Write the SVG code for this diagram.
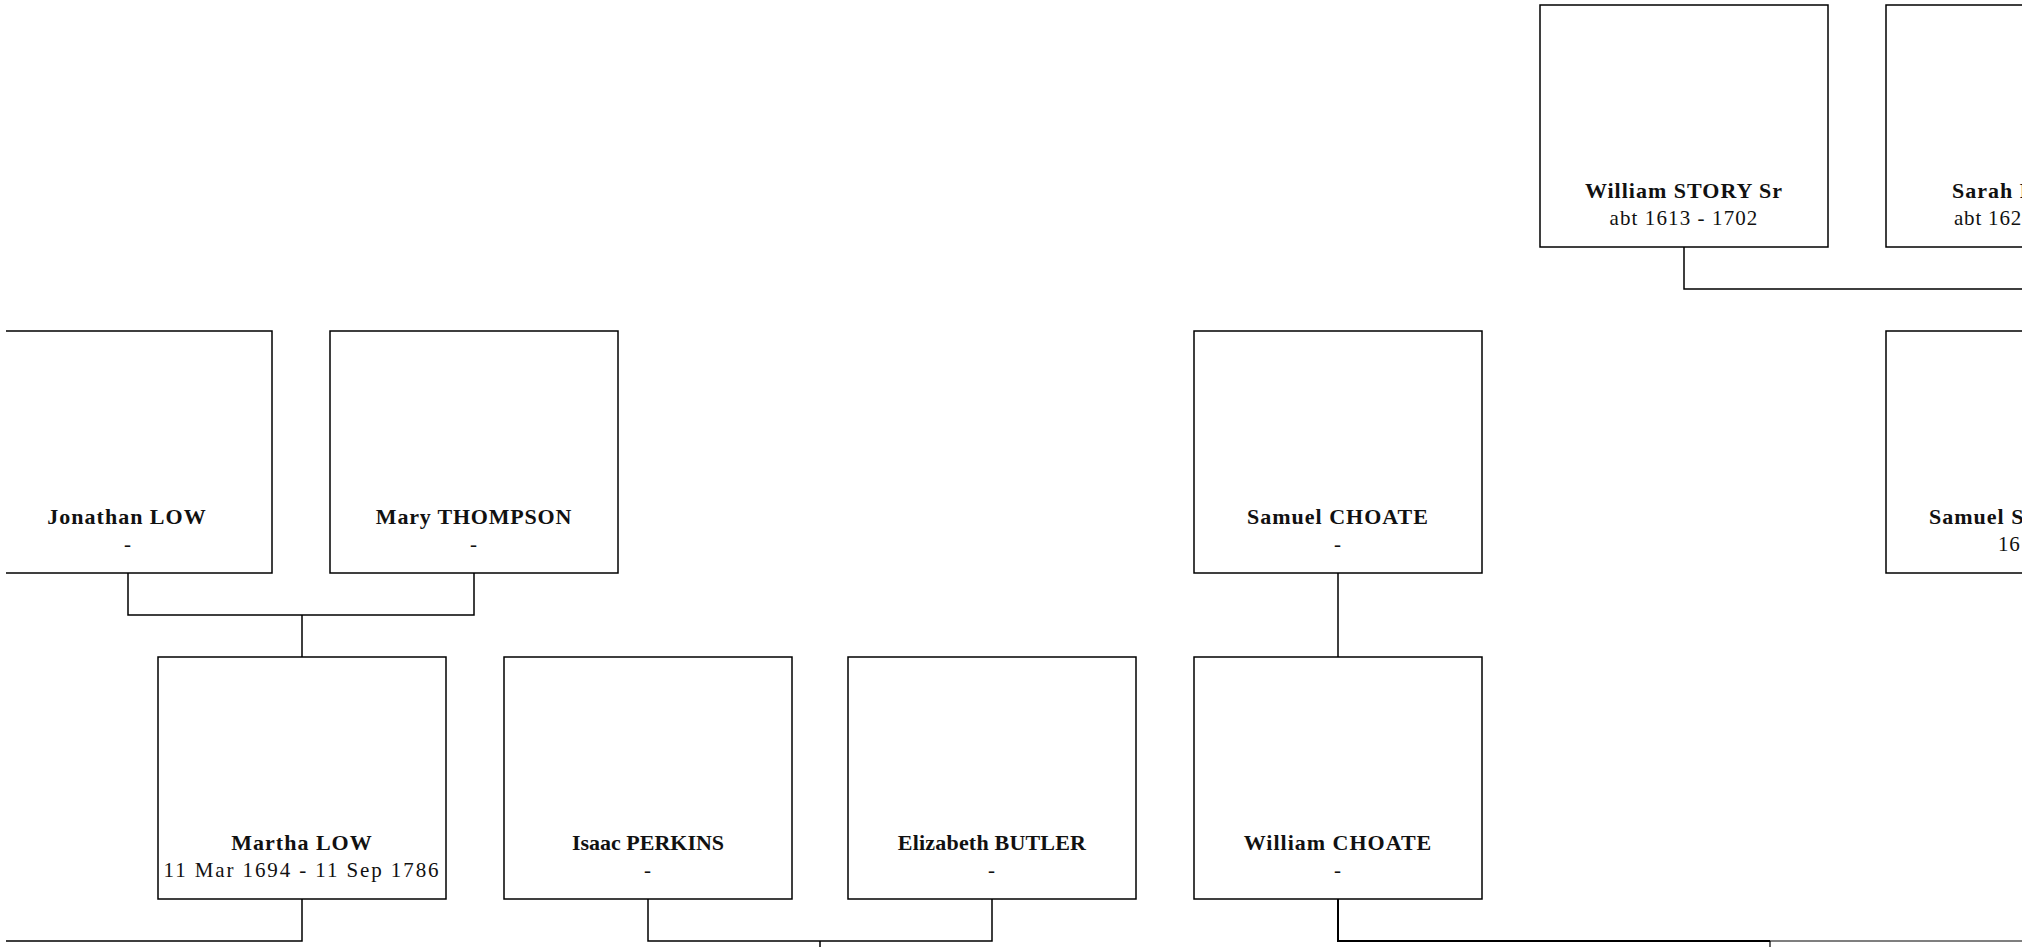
<svg xmlns="http://www.w3.org/2000/svg" width="2038" height="947" viewBox="0 0 2038 947">
<style>
.box{fill:#fff;stroke:#000;stroke-width:1.5}
.ln{fill:none;stroke:#000;stroke-width:1.5}
.nm{font-family:"Liberation Serif","Times New Roman",serif;font-weight:bold;font-size:22px;letter-spacing:1px;text-anchor:middle;fill:#111}
.dt{font-family:"Liberation Serif","Times New Roman",serif;font-size:21px;letter-spacing:0.8px;text-anchor:middle;fill:#111}
.st{text-anchor:start}
</style>
<defs><clipPath id="c"><rect x="6" y="0" width="2016" height="947"/></clipPath></defs>
<rect width="2038" height="947" fill="#fff"/>
<g clip-path="url(#c)">
<g id="connectors">
<path class="ln" d="M1684 247V289H2030"/>
<path class="ln" d="M128 573V615H474V573M302 615V657"/>
<path class="ln" d="M1338 573V615M1338 615V657"/>
<path class="ln" d="M302 899V941H0"/>
<path class="ln" d="M648 899V941H992V899M820 941V947"/>
<path class="ln" d="M1338 899V941H1770" style="stroke-width:2"/>
<path class="ln" d="M1770 941H2030M1770 941V947" style="stroke-width:1.2"/>
</g>
<g id="william-story"><rect class="box" x="1540" y="5" width="288" height="242"/><text class="nm" x="1684" y="198">William STORY Sr</text><text class="dt" x="1684" y="225" style="letter-spacing:1.1px">abt 1613 - 1702</text></g>
<g id="sarah"><rect class="box" x="1886" y="5" width="288" height="242"/><text class="nm st" x="1952" y="198">Sarah F</text><text class="dt st" x="1954" y="225">abt 162</text></g>
<g id="jonathan-low"><rect class="box" x="-16" y="331" width="288" height="242"/><text class="nm" x="127" y="524">Jonathan LOW</text><text class="dt" x="128" y="551">-</text></g>
<g id="mary-thompson"><rect class="box" x="330" y="331" width="288" height="242"/><text class="nm" x="474" y="524" style="letter-spacing:0.8px">Mary THOMPSON</text><text class="dt" x="474" y="551">-</text></g>
<g id="samuel-choate"><rect class="box" x="1194" y="331" width="288" height="242"/><text class="nm" x="1338" y="524">Samuel CHOATE</text><text class="dt" x="1338" y="551">-</text></g>
<g id="samuel-s"><rect class="box" x="1886" y="331" width="288" height="242"/><text class="nm st" x="1929" y="524">Samuel S</text><text class="dt st" x="1998" y="551">16</text></g>
<g id="martha-low"><rect class="box" x="158" y="657" width="288" height="242"/><text class="nm" x="302" y="850">Martha LOW</text><text class="dt" x="302" y="877" style="letter-spacing:1.9px">11 Mar 1694 - 11 Sep 1786</text></g>
<g id="isaac-perkins"><rect class="box" x="504" y="657" width="288" height="242"/><text class="nm" x="648" y="850" style="letter-spacing:0px">Isaac PERKINS</text><text class="dt" x="648" y="877">-</text></g>
<g id="elizabeth-butler"><rect class="box" x="848" y="657" width="288" height="242"/><text class="nm" x="992" y="850" style="letter-spacing:0.2px">Elizabeth BUTLER</text><text class="dt" x="992" y="877">-</text></g>
<g id="william-choate"><rect class="box" x="1194" y="657" width="288" height="242"/><text class="nm" x="1338" y="850">William CHOATE</text><text class="dt" x="1338" y="877">-</text></g>
</g>
</svg>
